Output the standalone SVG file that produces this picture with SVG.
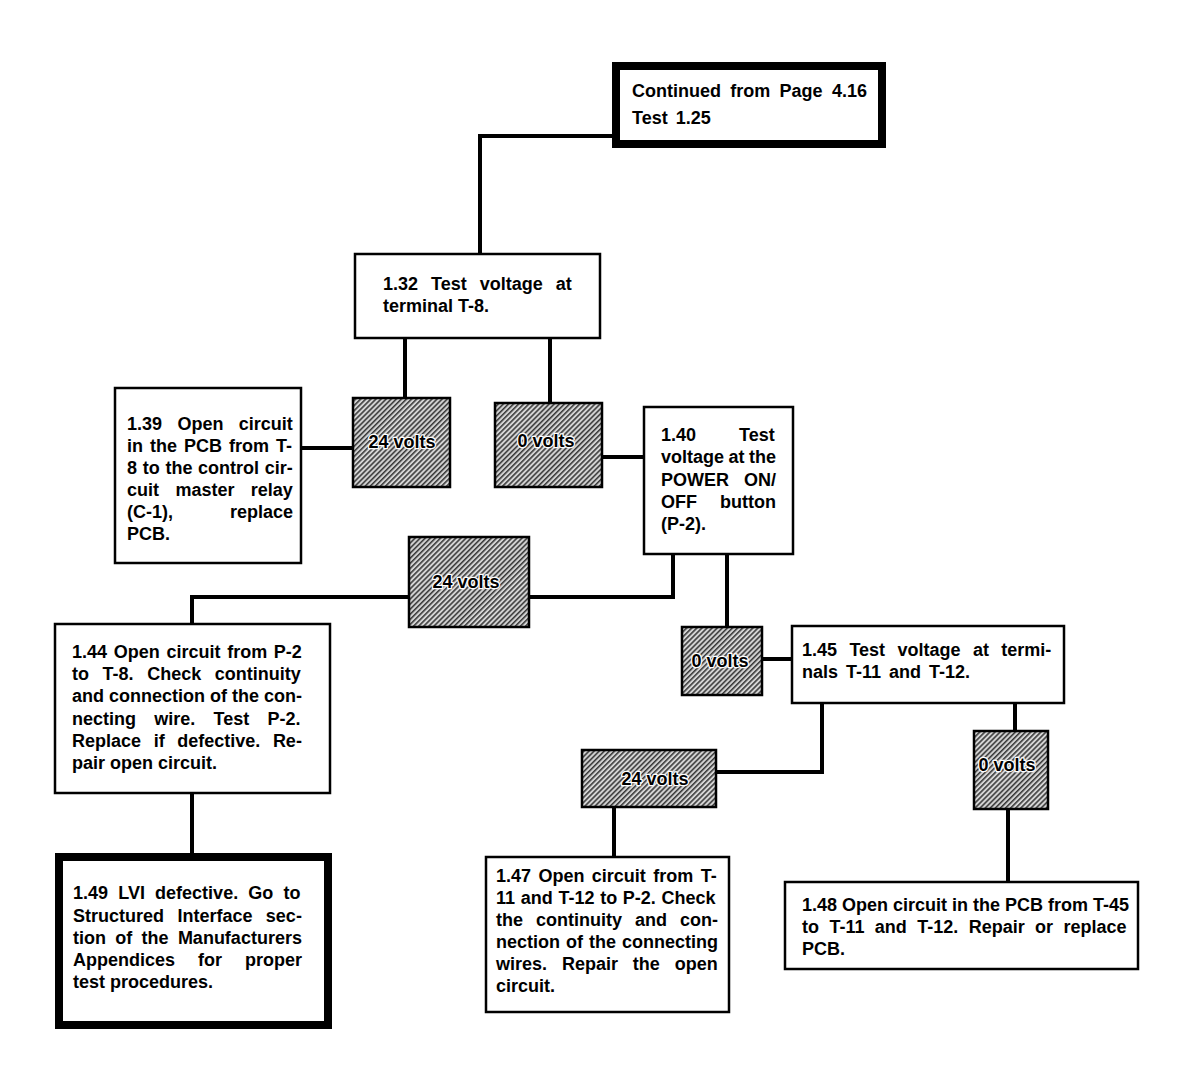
<svg xmlns="http://www.w3.org/2000/svg" width="1200" height="1069" viewBox="0 0 1200 1069">
<defs>
<pattern id="hatch" patternUnits="userSpaceOnUse" width="3.6" height="10" patternTransform="rotate(45)">
<rect width="3.6" height="10" fill="#d4d4d4"/>
<line x1="0.8" y1="0" x2="0.8" y2="10" stroke="#1a1a1a" stroke-width="1.3"/>
</pattern>
</defs>
<style>
.box{fill:#fff;stroke:#000;stroke-width:2.5}
.thick{fill:#fff;stroke:#000;stroke-width:8}
.hb{fill:url(#hatch);stroke:#000;stroke-width:2.5}
text{font-family:"Liberation Sans",Arial,Helvetica,sans-serif;font-weight:bold;font-size:18px;fill:#000}
.lbl{text-anchor:middle;stroke:#fff;stroke-width:2.5;paint-order:stroke;stroke-linejoin:round}
.conn{fill:none;stroke:#000;stroke-width:4;stroke-linejoin:miter}
</style>
<rect width="1200" height="1069" fill="#fff"/>

<g id="connectors">
<path class="conn" d="M612,136 H480 V254"/>
<path class="conn" d="M405,338 V398"/>
<path class="conn" d="M550,338 V403"/>
<path class="conn" d="M301,448 H353"/>
<path class="conn" d="M602,457 H644"/>
<path class="conn" d="M673,554 V597 H529"/>
<path class="conn" d="M409,597 H192 V624"/>
<path class="conn" d="M727,554 V627"/>
<path class="conn" d="M192,793 V853"/>
<path class="conn" d="M762,659 H792"/>
<path class="conn" d="M822,703 V772 H716"/>
<path class="conn" d="M1015,703 V731"/>
<path class="conn" d="M614,807 V857"/>
<path class="conn" d="M1008,809 V882"/>
</g>

<g id="n125">
<rect class="thick" x="616" y="66" width="266" height="78"/>
<text x="632" y="97" word-spacing="4.3">Continued from Page 4.16</text>
<text x="632" y="124" word-spacing="3">Test 1.25</text>
</g>

<g id="n132">
<rect class="box" x="355" y="254" width="245" height="84"/>
<text x="383" y="290" word-spacing="8">1.32 Test voltage at</text>
<text x="383" y="312">terminal T-8.</text>
</g>

<g id="v24a">
<rect class="hb" x="353" y="398" width="97" height="89"/>
<text class="lbl" x="402" y="448">24 volts</text>
</g>

<g id="v0a">
<rect class="hb" x="495" y="403" width="107" height="84"/>
<text class="lbl" x="546" y="447">0 volts</text>
</g>

<g id="n139">
<rect class="box" x="115" y="388" width="186" height="175"/>
<text x="127" y="430" word-spacing="10.4">1.39 Open circuit</text>
<text x="127" y="452" word-spacing="2">in the PCB from T-</text>
<text x="127" y="474" word-spacing="0.7">8 to the control cir-</text>
<text x="127" y="496" word-spacing="11.4">cuit master relay</text>
<text x="127" y="518" word-spacing="52">(C-1), replace</text>
<text x="127" y="540">PCB.</text>
</g>

<g id="n140">
<rect class="box" x="644" y="407" width="149" height="147"/>
<text x="661" y="441" word-spacing="38">1.40 Test</text>
<text x="661" y="463" word-spacing="-0.5">voltage at the</text>
<text x="661" y="486" word-spacing="10">POWER ON/</text>
<text x="661" y="508" word-spacing="18">OFF button</text>
<text x="661" y="530">(P-2).</text>
</g>

<g id="v24b">
<rect class="hb" x="409" y="537" width="120" height="90"/>
<text class="lbl" x="466" y="588">24 volts</text>
</g>

<g id="n144">
<rect class="box" x="55" y="624" width="275" height="169"/>
<text x="72" y="658" word-spacing="1.7">1.44 Open circuit from P-2</text>
<text x="72" y="680" word-spacing="8.6">to T-8. Check continuity</text>
<text x="72" y="702">and connection of the con-</text>
<text x="72" y="725" word-spacing="13.3">necting wire. Test P-2.</text>
<text x="72" y="747" word-spacing="7.6">Replace if defective. Re-</text>
<text x="72" y="769">pair open circuit.</text>
</g>

<g id="n149">
<rect class="thick" x="59" y="857" width="269" height="168"/>
<text x="73" y="899" word-spacing="5.2">1.49 LVI defective. Go to</text>
<text x="73" y="922" word-spacing="8.4">Structured Interface sec-</text>
<text x="73" y="944" word-spacing="4.3">tion of the Manufacturers</text>
<text x="73" y="966" word-spacing="18">Appendices for proper</text>
<text x="73" y="988">test procedures.</text>
</g>

<g id="v0b">
<rect class="hb" x="682" y="627" width="80" height="68"/>
<text class="lbl" x="720" y="667">0 volts</text>
</g>

<g id="n145">
<rect class="box" x="792" y="626" width="272" height="77"/>
<text x="802" y="656" word-spacing="7.4">1.45 Test voltage at termi-</text>
<text x="802" y="678" word-spacing="3">nals T-11 and T-12.</text>
</g>

<g id="v24c">
<rect class="hb" x="582" y="750" width="134" height="57"/>
<text class="lbl" x="655" y="785">24 volts</text>
</g>

<g id="v0c">
<rect class="hb" x="974" y="731" width="74" height="78"/>
<text class="lbl" x="1007" y="771">0 volts</text>
</g>

<g id="n147">
<rect class="box" x="486" y="857" width="243" height="155"/>
<text x="496" y="882" word-spacing="2.4">1.47 Open circuit from T-</text>
<text x="496" y="904" word-spacing="0.7">11 and T-12 to P-2. Check</text>
<text x="496" y="926" word-spacing="8">the continuity and con-</text>
<text x="496" y="948" word-spacing="1">nection of the connecting</text>
<text x="496" y="970" word-spacing="9.9">wires. Repair the open</text>
<text x="496" y="992">circuit.</text>
</g>

<g id="n148">
<rect class="box" x="785" y="882" width="353" height="87"/>
<text x="802" y="911">1.48 Open circuit in the PCB from T-45</text>
<text x="802" y="933" word-spacing="5.4">to T-11 and T-12. Repair or replace</text>
<text x="802" y="955">PCB.</text>
</g>
</svg>
